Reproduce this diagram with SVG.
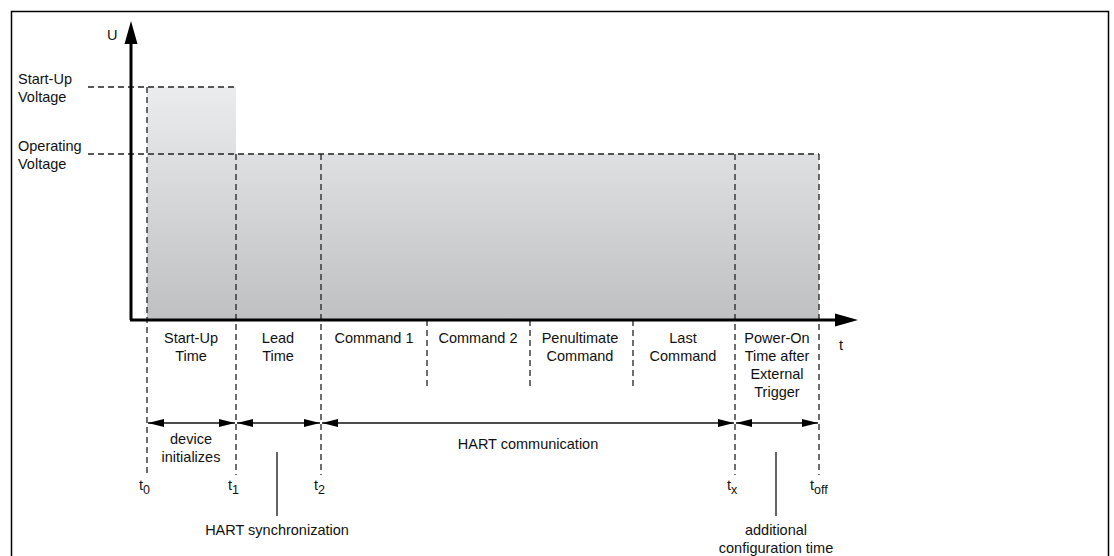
<svg xmlns="http://www.w3.org/2000/svg" width="1114" height="556" viewBox="0 0 1114 556">
<style>
text{font-family:"Liberation Sans",Arial,Helvetica,sans-serif;font-size:14.5px;fill:#111}
.c{text-anchor:middle}
.d{stroke:#222;stroke-width:1.3;stroke-dasharray:6,4;fill:none}
.s{stroke:#111;stroke-width:1.3;fill:none}
.ax{stroke:#000;stroke-width:3;fill:none}
.sub{font-size:12.5px}
</style>
<defs>
<linearGradient id="g" gradientUnits="userSpaceOnUse" x1="0" y1="87" x2="0" y2="320">
<stop offset="0" stop-color="#ebecee"/>
<stop offset="1" stop-color="#bfc0c2"/>
</linearGradient>
<marker id="ae" markerWidth="16" markerHeight="8" refX="16" refY="4" orient="auto" markerUnits="userSpaceOnUse">
<path d="M0,0 L16,4 L0,8 Z" fill="#000"/>
</marker>
<marker id="as" markerWidth="16" markerHeight="8" refX="0" refY="4" orient="auto" markerUnits="userSpaceOnUse">
<path d="M16,0 L0,4 L16,8 Z" fill="#000"/>
</marker>
</defs>
<path d="M11.5,556 V11.5 H1108.5 V556" fill="none" stroke="#000" stroke-width="1.5"/>
<g id="area">
<rect x="147" y="87" width="89" height="233" fill="url(#g)"/>
<rect x="147" y="154" width="672" height="166" fill="url(#g)"/>
</g>
<g id="levels">
<path class="d" d="M88,87 H236"/>
<path class="d" d="M88,154 H819"/>
<text x="18" y="84">Start-Up</text>
<text x="18" y="102">Voltage</text>
<text x="18" y="151">Operating</text>
<text x="18" y="169">Voltage</text>
</g>
<g id="timelines">
<path class="d" d="M147,87 V475"/>
<path class="d" d="M236,154 V475"/>
<path class="d" d="M321,154 V475"/>
<path class="d" d="M735,154 V475"/>
<path class="d" d="M819,154 V475"/>
<path class="d" d="M427,320 V390"/>
<path class="d" d="M530,320 V390"/>
<path class="d" d="M633,320 V390"/>
</g>
<g id="axes">
<path d="M131,320 V40" class="ax"/>
<path d="M124.5,44 L131,21 L137.5,44 Z" fill="#000"/>
<path d="M130,320 H838" class="ax"/>
<path d="M835,313.5 L858,320 L835,326.5 Z" fill="#000"/>
<text x="107" y="40">U</text>
<text x="839" y="350">t</text>
</g>
<g id="phases">
<text class="c" x="191" y="343">Start-Up</text>
<text class="c" x="191" y="361">Time</text>
<text class="c" x="278" y="343">Lead</text>
<text class="c" x="278" y="361">Time</text>
<text class="c" x="374" y="343">Command 1</text>
<text class="c" x="478" y="343">Command 2</text>
<text class="c" x="580" y="343">Penultimate</text>
<text class="c" x="580" y="361">Command</text>
<text class="c" x="683" y="343">Last</text>
<text class="c" x="683" y="361">Command</text>
<text class="c" x="777" y="343">Power-On</text>
<text class="c" x="777" y="361">Time after</text>
<text class="c" x="777" y="379">External</text>
<text class="c" x="777" y="397">Trigger</text>
</g>
<g id="connectors">
<path class="s" d="M148,423 H235" marker-start="url(#as)" marker-end="url(#ae)"/>
<path class="s" d="M237,423 H320" marker-start="url(#as)" marker-end="url(#ae)"/>
<path class="s" d="M322,423 H734" marker-start="url(#as)" marker-end="url(#ae)"/>
<path class="s" d="M736,423 H818" marker-start="url(#as)" marker-end="url(#ae)"/>
<path class="s" d="M277,452 V516"/>
<path class="s" d="M776,452 V516"/>
</g>
<g id="spans">
<text class="c" x="191" y="444">device</text>
<text class="c" x="191" y="462">initializes</text>
<text class="c" x="528" y="449">HART communication</text>
<text class="c" x="277" y="535">HART synchronization</text>
<text class="c" x="776" y="535">additional</text>
<text class="c" x="776" y="553">configuration time</text>
</g>
<g id="ticks">
<text x="139" y="490">t<tspan class="sub" dy="4">0</tspan></text>
<text x="228" y="490">t<tspan class="sub" dy="4">1</tspan></text>
<text x="314" y="490">t<tspan class="sub" dy="4">2</tspan></text>
<text x="727" y="490">t<tspan class="sub" dy="4">x</tspan></text>
<text x="810" y="490">t<tspan class="sub" dy="4">off</tspan></text>
</g>
</svg>
